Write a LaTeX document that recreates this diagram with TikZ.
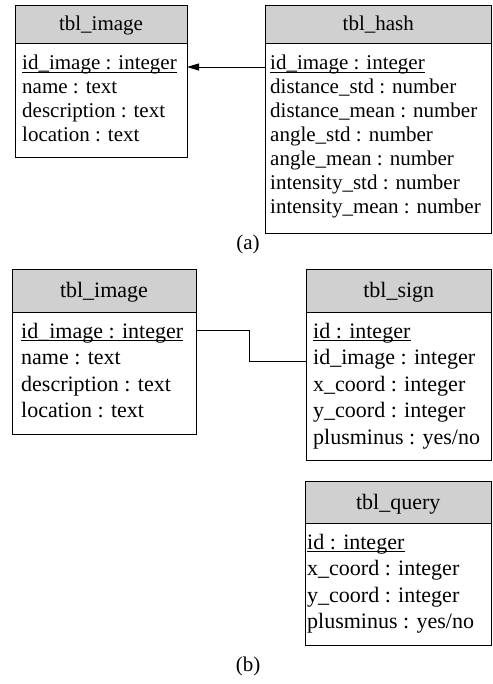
\documentclass[tikz,border=0pt]{standalone}
\usepackage{fontspec}
\setmainfont{LiberationSerif}[Extension=.ttf, UprightFont=*-Regular]
\usetikzlibrary{arrows.meta}
\definecolor{hdrgray}{RGB}{208,208,208}
\tikzset{
  x=1pt, y=-1pt,
  box/.style={draw, line width=0.8pt, inner sep=0pt, outer sep=0pt},
  hdr/.style={box, fill=hdrgray},
  body/.style={box},
  rowa/.style={anchor=base west, inner sep=0pt, font=\rmfamily\fontsize{21}{24}\selectfont},
  rowb/.style={anchor=base west, inner sep=0pt, font=\rmfamily\fontsize{22}{26}\selectfont},
  titlea/.style={anchor=base, inner sep=0pt, font=\rmfamily\fontsize{21}{24}\selectfont},
  titleb/.style={anchor=base, inner sep=0pt, font=\rmfamily\fontsize{22}{26}\selectfont},
  caption/.style={anchor=base, inner sep=0pt, font=\rmfamily\fontsize{21}{24}\selectfont},
  ul/.style={line width=0.8pt},
  conn/.style={line width=0.8pt},
  arrowconn/.style={conn, -{Triangle[length=12pt, width=7pt]}},
}
\begin{document}
\begin{tikzpicture}
\useasboundingbox (0,0) rectangle (492,684);

% ---------------- panel (a) ----------------
\node[hdr, minimum width=172pt, minimum height=38pt] (ia-h) at (101,24) {};
\node[body, minimum width=172pt, minimum height=114pt] (ia-b) at (101,100) {};
\node[titlea] (ia-t) at (101,31) {tbl\_image};
\node[rowa] (ia-r1) at (22,70) {id\_image : integer};
\node[rowa] (ia-r2) at (22,94) {name : text};
\node[rowa] (ia-r3) at (22,118) {description : text};
\node[rowa] (ia-r4) at (22,142) {location : text};
\draw[ul] ([yshift=-2.6pt]ia-r1.base west) -- ([yshift=-2.6pt]ia-r1.base east);

\node[hdr, minimum width=226.5pt, minimum height=38pt] (ha-h) at (378.25,24) {};
\node[body, minimum width=226.5pt, minimum height=190pt] (ha-b) at (378.25,138) {};
\node[titlea] (ha-t) at (378.25,31) {tbl\_hash};
\node[rowa] (ha-r1) at (270,70) {id\_image : integer};
\node[rowa] (ha-r2) at (270,94) {distance\_std : number};
\node[rowa] (ha-r3) at (270,118) {distance\_mean : number};
\node[rowa] (ha-r4) at (270,142) {angle\_std : number};
\node[rowa] (ha-r5) at (270,166) {angle\_mean : number};
\node[rowa] (ha-r6) at (270,190) {intensity\_std : number};
\node[rowa] (ha-r7) at (270,214) {intensity\_mean : number};
\draw[ul] ([yshift=-2.6pt]ha-r1.base west) -- ([yshift=-2.6pt]ha-r1.base east);

\coordinate (aY) at (0,67);
\draw[arrowconn] (ha-b.west |- aY) -- (ia-b.east |- aY);

\node[caption] (capa) at (248,250) {(a)};

% ---------------- panel (b) ----------------
\node[hdr, minimum width=184pt, minimum height=43pt] (ib-h) at (104,290.5) {};
\node[body, minimum width=184pt, minimum height=122pt] (ib-b) at (104,373) {};
\node[titleb] (ib-t) at (104,297) {tbl\_image};
\node[rowb] (ib-r1) at (21,338) {id\_image : integer};
\node[rowb] (ib-r2) at (21,364.5) {name : text};
\node[rowb] (ib-r3) at (21,391) {description : text};
\node[rowb] (ib-r4) at (21,417.5) {location : text};
\draw[ul] ([yshift=-2.7pt]ib-r1.base west) -- ([yshift=-2.7pt]ib-r1.base east);

\node[hdr, minimum width=185.5pt, minimum height=43pt] (sg-h) at (398.75,290.5) {};
\node[body, minimum width=185.5pt, minimum height=148pt] (sg-b) at (398.75,386) {};
\node[titleb] (sg-t) at (398.75,297) {tbl\_sign};
\node[rowb] (sg-r1) at (313,338) {id : integer};
\node[rowb] (sg-r2) at (313,364.5) {id\_image : integer};
\node[rowb] (sg-r3) at (313,391) {x\_coord : integer};
\node[rowb] (sg-r4) at (313,417.5) {y\_coord : integer};
\node[rowb] (sg-r5) at (313,444) {plusminus : yes/no};
\draw[ul] ([yshift=-2.7pt]sg-r1.base west) -- ([yshift=-2.7pt]sg-r1.base east);

\node[hdr, minimum width=186.5pt, minimum height=42pt] (qy-h) at (398.25,502) {};
\node[body, minimum width=186.5pt, minimum height=122pt] (qy-b) at (398.25,584) {};
\node[titleb] (qy-t) at (398.25,509) {tbl\_query};
\node[rowb] (qy-r1) at (307,549) {id : integer};
\node[rowb] (qy-r2) at (307,575.5) {x\_coord : integer};
\node[rowb] (qy-r3) at (307,602) {y\_coord : integer};
\node[rowb] (qy-r4) at (307,628.5) {plusminus : yes/no};
\draw[ul] ([yshift=-2.7pt]qy-r1.base west) -- ([yshift=-2.7pt]qy-r1.base east);

\coordinate (bY1) at (0,330);
\coordinate (bY2) at (0,361);
\coordinate (bX) at (249,0);
\draw[conn] (ib-b.east |- bY1) -| (bX |- bY2) -- (sg-b.west |- bY2);

\node[caption] (capb) at (248,671) {(b)};
\end{tikzpicture}
\end{document}
